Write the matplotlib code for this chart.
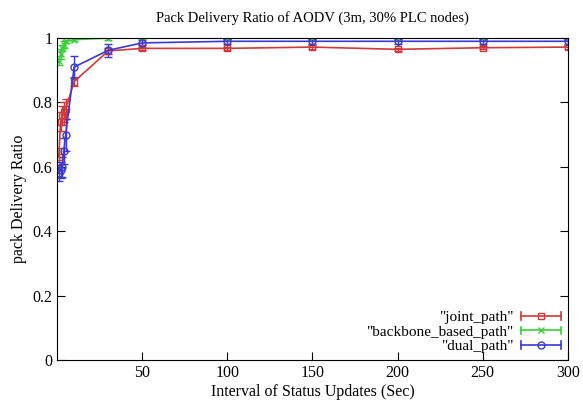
import matplotlib
matplotlib.use("Agg")
import matplotlib.pyplot as plt
from matplotlib.lines import Line2D
from matplotlib.legend_handler import HandlerBase

plt.rcParams['font.family'] = ['Liberation Serif', 'DejaVu Serif']

x = [1, 2, 3, 4, 5, 10, 30, 50, 100, 150, 200, 250, 300]

joint_path = [0.63, 0.74, 0.76, 0.77, 0.78, 0.865, 0.96, 0.968, 0.968, 0.972, 0.965, 0.970, 0.972]
joint_err = [0.03, 0.03, 0.03, 0.03, 0.03, 0.015, 0.01, 0.005, 0.005, 0.005, 0.005, 0.005, 0.005]

backbone_path = [0.93, 0.95, 0.97, 0.98, 0.99, 0.995, 1.0, 1.0, 1.0, 1.0, 1.0, 1.0, 1.0]
backbone_err = [0.015, 0.015, 0.01, 0.01, 0.005, 0.005, 0.005, 0.003, 0.003, 0.003, 0.003, 0.003, 0.003]

dual_path = [0.58, 0.59, 0.60, 0.65, 0.70, 0.91, 0.962, 0.985, 0.99, 0.99, 0.99, 0.99, 0.99]
dual_err = [0.025, 0.025, 0.03, 0.04, 0.05, 0.035, 0.02, 0.008, 0.008, 0.008, 0.008, 0.008, 0.008]

labels = ['"joint_path"', '"backbone_based_path"', '"dual_path"']
colors = ['#d03a3a', '#3ad03a', '#3a3ad0']
markers = ['s', 'x', 'o']


class HorizontalErrorHandler(HandlerBase):
    """Legend key drawn as |--marker--| in the series colour."""

    def create_artists(self, legend, orig_handle, xdescent, ydescent,
                       width, height, fontsize, trans):
        c = orig_handle.get_color()
        yc = height / 2 - ydescent
        x0, x1 = -xdescent, width - xdescent
        cap = height * 0.35
        line = Line2D([x0, x1], [yc, yc], color=c, lw=1.2, transform=trans)
        lcap = Line2D([x0, x0], [yc - cap, yc + cap], color=c, lw=1.2, transform=trans)
        rcap = Line2D([x1, x1], [yc - cap, yc + cap], color=c, lw=1.2, transform=trans)
        mk = Line2D([(x0 + x1) / 2], [yc], color=c, marker=orig_handle.get_marker(),
                    ms=5, mfc='none', mew=1.0, ls='none', transform=trans)
        return [line, lcap, rcap, mk]


fig = plt.figure(figsize=(5.83, 4.05), dpi=100)
ax = fig.add_axes([0.098, 0.111, 0.876, 0.795])

series = [(joint_path, joint_err), (backbone_path, backbone_err), (dual_path, dual_err)]
handles = []
for (vals, errs), c, m, lab in zip(series, colors, markers, labels):
    ax.errorbar(x, vals, yerr=errs, color=c, marker=m, ms=5, mfc='none',
                mew=1.0, lw=1.2, capsize=3, elinewidth=1.0)
    handles.append(Line2D([], [], color=c, marker=m, label=lab))

ax.set_xlim(0, 300)
ax.set_ylim(0, 1)
ax.set_xticks([50, 100, 150, 200, 250, 300])
ax.set_yticks([0, 0.2, 0.4, 0.6, 0.8, 1.0])
ax.set_yticklabels(['0', '0.2', '0.4', '0.6', '0.8', '1'])
ax.tick_params(direction='in', top=True, right=True, labelsize=11.5, length=6)

ax.set_title('Pack Delivery Ratio of AODV (3m, 30% PLC nodes)', fontsize=10.5, pad=12)
ax.set_xlabel('Interval of Status Updates (Sec)', fontsize=11.5, labelpad=2)
ax.set_ylabel('pack Delivery Ratio', fontsize=11.5)

ax.legend(handles=handles, loc='lower right', markerfirst=False, frameon=False,
          fontsize=11, handlelength=2.6, borderaxespad=0.15, labelspacing=0.05,
          handletextpad=0.5, borderpad=0.3,
          handler_map={Line2D: HorizontalErrorHandler()})

fig.savefig('out.png', dpi=100)
